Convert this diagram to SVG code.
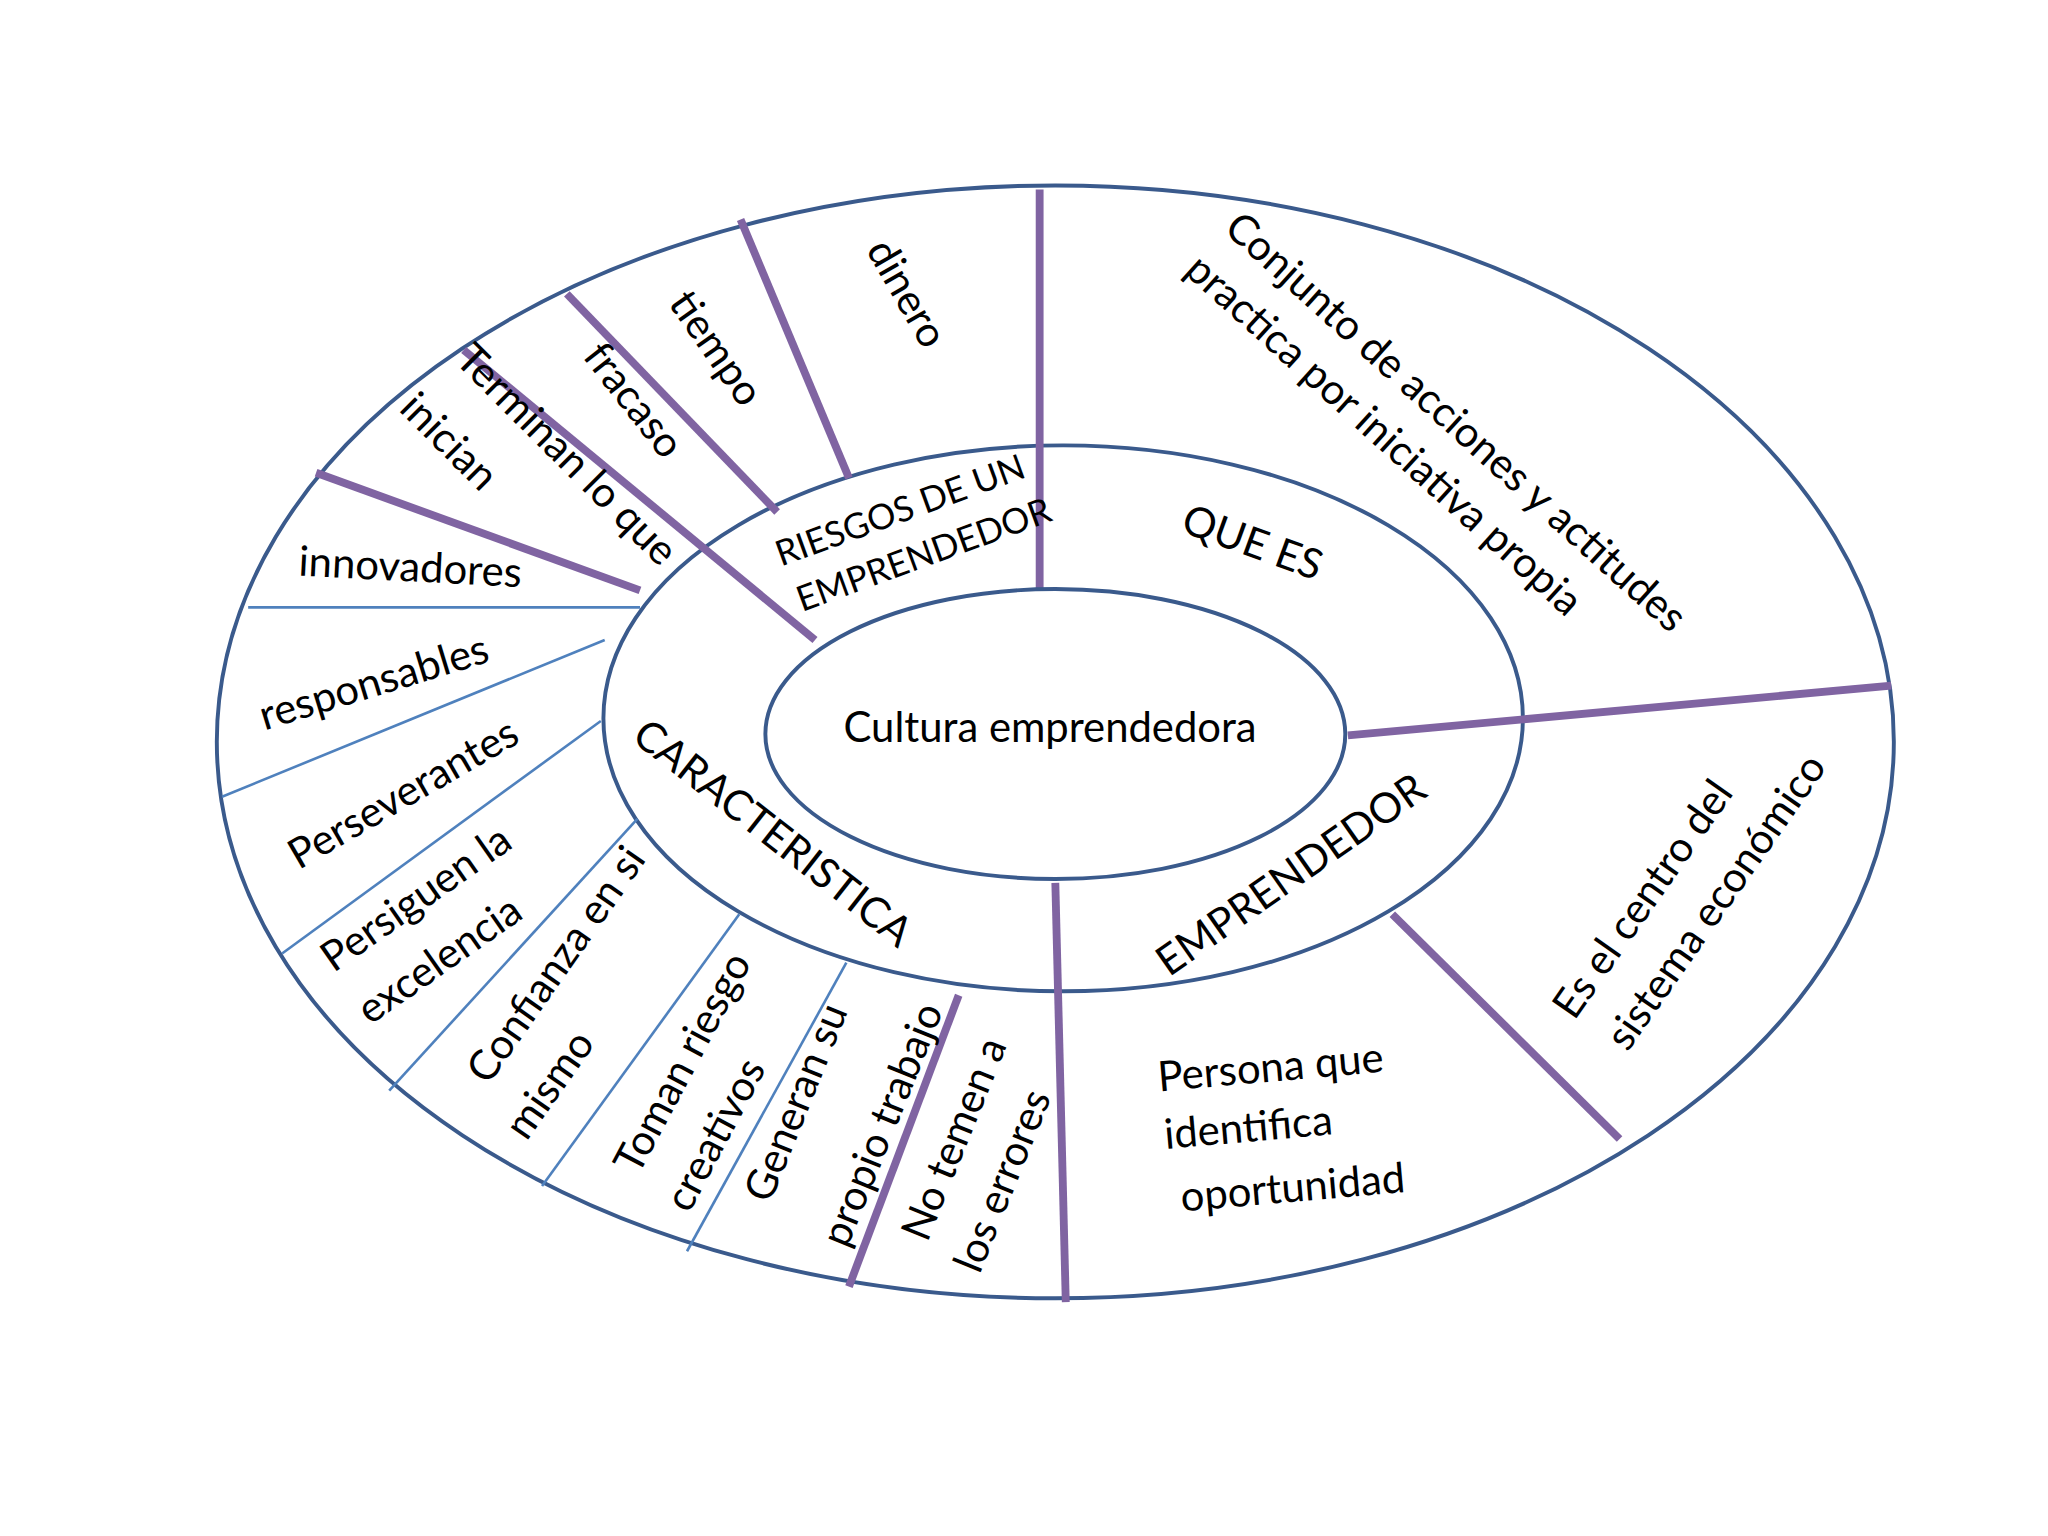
<svg xmlns="http://www.w3.org/2000/svg" width="2048" height="1536" viewBox="0 0 2048 1536">
<style>
.e{fill:none;stroke:#3a5a8c;stroke-width:3}
.p{stroke:#8064a2;stroke-width:6;stroke-linecap:butt}
.b{stroke:#4f81bd;stroke-width:2}
text{font-family:Lato,"Open Sans","Noto Sans",sans-serif;font-size:32px;fill:#000;text-anchor:middle;dominant-baseline:middle}
.s{font-size:27px}
</style>
<rect width="2048" height="1536" fill="#fff"/>
<g transform="scale(1.3061)">
<g id="outer"><ellipse class="e" cx="808" cy="568" rx="642" ry="426"/></g>
<g id="middle"><ellipse class="e" cx="814" cy="550" rx="352" ry="209"/></g>
<g id="connectors">
<line class="p" x1="796" y1="145" x2="796" y2="452"/>
<line class="p" x1="567" y1="168" x2="650" y2="366"/>
<line class="p" x1="434" y1="225" x2="595" y2="392"/>
<line class="p" x1="355" y1="268" x2="624" y2="490"/>
<line class="p" x1="242" y1="362" x2="490" y2="452"/>
<line class="p" x1="1032" y1="563" x2="1448" y2="525"/>
<line class="p" x1="808" y1="676" x2="816" y2="997"/>
<line class="p" x1="1066" y1="700" x2="1240" y2="872"/>
<line class="p" x1="734" y1="762" x2="650" y2="985"/>
<line class="b" x1="190" y1="465" x2="490" y2="465"/>
<line class="b" x1="170" y1="610" x2="463" y2="490"/>
<line class="b" x1="216" y1="730" x2="460" y2="552"/>
<line class="b" x1="298" y1="835" x2="488" y2="627"/>
<line class="b" x1="415" y1="908" x2="566" y2="700"/>
<line class="b" x1="526" y1="958" x2="648" y2="737"/>
</g>
<g id="center"><ellipse class="e" fill="#fff" cx="808" cy="562" rx="222" ry="111"/><text x="804" y="560">Cultura emprendedora</text></g>
<g id="labels">
<text transform="translate(958,418) rotate(20)">QUE ES</text>
<text class="s" transform="translate(690,393) rotate(-20)">RIESGOS DE UN</text>
<text class="s" transform="translate(708,427) rotate(-20)">EMPRENDEDOR</text>
<text transform="translate(590,640) rotate(38)">CARACTERISTICA</text>
<text transform="translate(990,672) rotate(-35)">EMPRENDEDOR</text>
<text transform="translate(1113,325) rotate(42)">Conjunto de acciones y actitudes</text>
<text transform="translate(1058,335) rotate(42)">practica por iniciativa propia</text>
<text transform="translate(692,226) rotate(60)">dinero</text>
<text transform="translate(546,268) rotate(55)">tiempo</text>
<text transform="translate(483,308) rotate(52)">fracaso</text>
<text transform="translate(432,350) rotate(45)">Terminan lo que</text>
<text transform="translate(342,340) rotate(45)">inician</text>
<text transform="translate(314,437) rotate(3)">innovadores</text>
<text transform="translate(287,525) rotate(-17)">responsables</text>
<text transform="translate(310,610) rotate(-30)">Perseverantes</text>
<text transform="translate(320,690) rotate(-35)">Persiguen la</text>
<text transform="translate(338,737) rotate(-35)">excelencia</text>
<text transform="translate(428,740) rotate(-55)">Confianza en si</text>
<text transform="translate(423,832) rotate(-55)">mismo</text>
<text transform="translate(525,815) rotate(-62)">Toman riesgo</text>
<text transform="translate(550,870) rotate(-62)">creativos</text>
<text transform="translate(612,845) rotate(-68)">Generan su</text>
<text transform="translate(678,862) rotate(-68)">propio trabajo</text>
<text transform="translate(733,873) rotate(-68)">No temen a</text>
<text transform="translate(770,905) rotate(-68)">los errores</text>
<text transform="translate(973,820) rotate(-5)">Persona que</text>
<text transform="translate(956,866) rotate(-5)">identifica</text>
<text transform="translate(990,912) rotate(-5)">oportunidad</text>
<text transform="translate(1260,690) rotate(-55)">Es el centro del</text>
<text transform="translate(1316,692) rotate(-55)">sistema económico</text>
</g>
</g>
</svg>
